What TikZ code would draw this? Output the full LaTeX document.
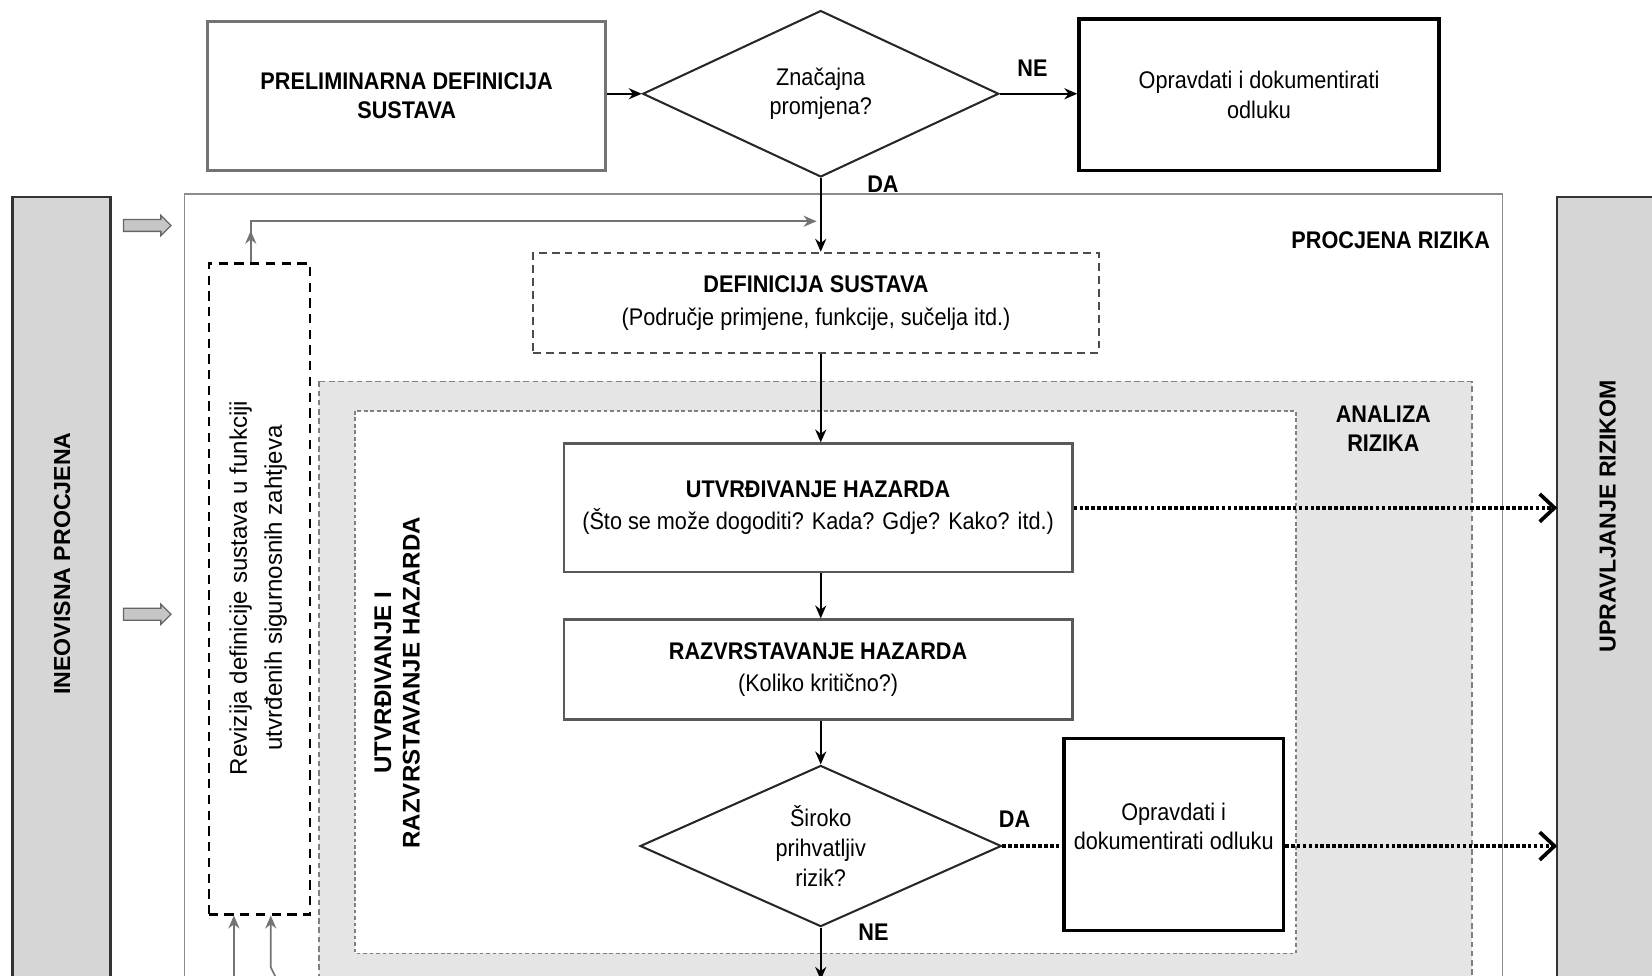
\documentclass[tikz,border=0pt]{standalone}
\usepackage{fontspec}
\setmainfont{Liberation Sans}
\newfontfamily\narrow[FakeStretch=0.9]{Liberation Sans}
\usetikzlibrary{shapes.geometric,shapes.arrows,arrows.meta,calc}
\tikzset{box/.style={draw=black!65,line width=1.2pt,fill=white,align=center,minimum width=9.66cm,minimum height=1.9cm,font=\narrow\fontsize{13}{17}\selectfont},
  endbox/.style={draw=black,line width=1.8pt,fill=white,align=center,font=\narrow\fontsize{13}{16}\selectfont},
  dec/.style={diamond,draw=black!85,line width=1.1pt,fill=white,inner sep=0pt,align=center,font=\narrow\fontsize{13}{16}\selectfont},
  dbox/.style={draw=black!70,line width=1.2pt,dash pattern=on 4pt off 3pt,fill=white,align=center,font=\narrow\fontsize{13}{18}\selectfont},
  lab/.style={align=center,inner sep=1pt,font=\narrow\bfseries\fontsize{13}{16}\selectfont},
  bar/.style={draw=black!80,line width=1.3pt,fill=gray!32},
  bartxt/.style={rotate=90,align=center,font=\bfseries\fontsize{12.5}{15}\selectfont},
  flow/.style={line width=0.9pt,-{Stealth[length=7pt,width=6pt]}},
  gflow/.style={line width=0.9pt,draw=black!55,-{Stealth[length=7pt,width=6pt]}},
  dotline/.style={line width=2.5pt,dash pattern=on 2pt off 1.2pt},
  dots/.style={dotline,-{Straight Barb[length=8pt,width=15pt,line width=2pt]}},
  fat/.style={single arrow,draw=black!60,fill=gray!45,line width=0.7pt,inner xsep=0pt,inner ysep=0.1cm,minimum height=0.9cm,single arrow head extend=0.08cm}}
\begin{document}
\begin{tikzpicture}[x=0.02cm,y=-0.02cm]
  \useasboundingbox (0,0) rectangle (1568,926);
  \clip (0,0) rectangle (1568,926);
  % regions
  \draw[draw=black!45,line width=0.9pt] (175,184) rectangle (1426,940);
  \draw[draw=black!50,line width=0.8pt,dash pattern=on 3pt off 2pt,fill=gray!20] (303,362) rectangle (1397,940);
  \draw[draw=black!50,line width=0.8pt,dash pattern=on 2pt off 1.5pt,fill=white] (337,390) rectangle (1230,905);
  \draw[bar] (12,187) rectangle (105,940);
  \draw[bar] (1478,187) rectangle (1580,940);
  \coordinate (uprw) at (1478,500);
  \node[bartxt] (ineo) at (59,535) {INEOVISNA PROCJENA};
  \node[bartxt] (upr) at (1526,490) {UPRAVLJANJE RIZIKOM};
  \node[fat] (fa1) at (137,214) {};
  \node[fat] (fa2) at (137,583) {};
  \node[lab] (procj) at (1320,228) {PROCJENA RIZIKA};
  \node[lab] (anal) at (1313,407) {ANALIZA\\RIZIKA};
  \node[rotate=90,align=center,font=\bfseries\fontsize{13}{15.3}\selectfont] (hgrp) at (377,648) {UTVRĐIVANJE I\\RAZVRSTAVANJE HAZARDA};
  % top row
  \node[box,draw=black!55,line width=1.7pt,minimum width=7.56cm,minimum height=2.84cm,font=\narrow\bfseries\fontsize{13}{16}\selectfont] (prelim) at (386,91) {PRELIMINARNA DEFINICIJA\\SUSTAVA};
  \node[dec,aspect=2.14,minimum width=6.76cm,minimum height=3.16cm] (dec1) at (779,89) {Značajna\\promjena?};
  \node[endbox,minimum width=6.84cm,minimum height=2.88cm] (opr1) at (1195,90) {Opravdati i dokumentirati\\odluku};
  \node[lab] (ne1) at (980,65) {NE};
  \node[lab] (da1) at (838,175) {DA};
  % revision
  \node[draw=black,line width=1.2pt,dash pattern=on 5pt off 3.5pt,minimum width=1.92cm,minimum height=12.36cm] (rev) at (246,559) {};
  \node[rotate=90,align=center,font=\fontsize{13}{19}\selectfont] (revtxt) at (245,558) {Revizija definicije sustava u funkciji\\utvrđenih sigurnosnih zahtjeva};
  % main flow
  \node[dbox,minimum width=10.74cm,minimum height=1.9cm] (def) at (774.5,287.5) {\textbf{DEFINICIJA SUSTAVA}\\(Područje primjene, funkcije, sučelja itd.)};
  \node[box,minimum height=2.44cm] (utv) at (776.5,482) {\textbf{UTVRĐIVANJE HAZARDA}\\(Što se može dogoditi? Kada? Gdje? Kako? itd.)};
  \node[box] (raz) at (776.5,635.5) {\textbf{RAZVRSTAVANJE HAZARDA}\\(Koliko kritično?)};
  \node[dec,aspect=2.24,minimum width=6.86cm,minimum height=3.06cm] (dec2) at (779,803) {Široko\\prihvatljiv\\rizik?};
  \node[endbox,minimum width=4.16cm,minimum height=3.64cm] (opr2) at (1114,792) {Opravdati i\\dokumentirati odluku\\[-7pt]};
  \node[lab] (da2) at (963,778) {DA};
  \node[lab] (ne2) at (829,885) {NE};
  % connectors
  \coordinate (fbc) at (238,210);
  \coordinate (fbe) at (775,210);
  \coordinate (b1) at (222,940);
  \coordinate (b2) at (268,940);
  \coordinate (b2k) at (257,918);
  \coordinate (bot) at (779,930);
  \draw[flow] (prelim.east |- dec1.west) -- (dec1.west);
  \draw[flow] (dec1.east) -- (dec1.east -| opr1.west);
  \draw[flow] (dec1.south) -- (dec1.south |- def.north);
  \draw[flow] (dec1.south |- def.south) -- (dec1.south |- utv.north);
  \draw[flow] (dec1.south |- utv.south) -- (dec1.south |- raz.north);
  \draw[flow] (dec1.south |- raz.south) -- (dec2.north);
  \draw[flow] (dec2.south) -- (bot);
  \draw[gflow] (fbc |- rev.north) -- ++(0,-30);
  \draw[gflow] (fbc |- rev.north) -- (fbc) -- (fbe);
  \draw[gflow] (b1) -- (b1 |- rev.south);
  \draw[gflow] (b2) -- (b2k) -- (b2k |- rev.south);
  \draw[dots] (utv.east) -- (utv.east -| uprw);
  \draw[dotline] (dec2.east) -- (dec2.east -| opr2.west);
  \draw[dots] (opr2.east |- dec2.east) -- (dec2.east -| uprw);
\end{tikzpicture}
\end{document}
